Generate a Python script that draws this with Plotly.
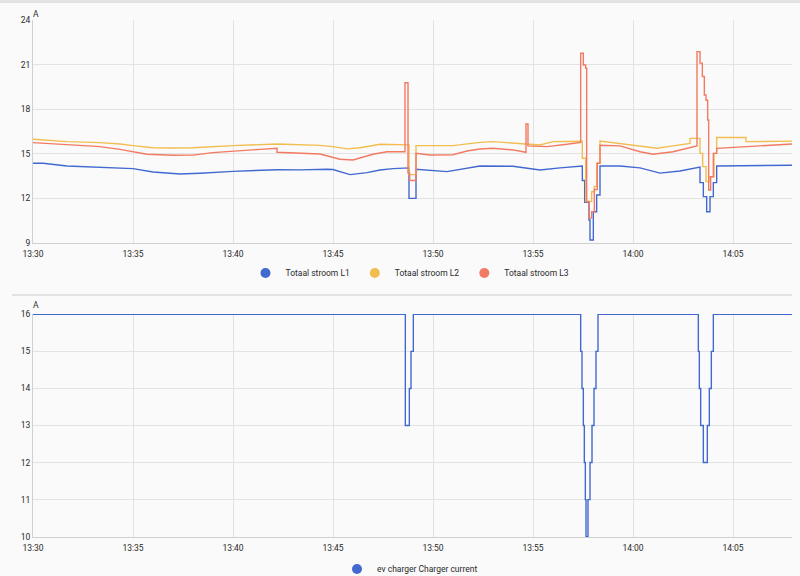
import plotly.graph_objects as go

day = "2024-05-01 "

# Totaal stroom L1 (A)
l1_times = ["13:30:00", "13:30:30", "13:31:42", "13:33:21", "13:35:00", "13:36:00", "13:37:21", "13:38:21",
            "13:40:00", "13:42:12", "13:43:21", "13:44:42", "13:45:00", "13:45:51", "13:46:42", "13:47:21",
            "13:48:00", "13:48:48", "13:48:48", "13:49:09", "13:49:09", "13:50:42", "13:51:42", "13:52:21",
            "13:54:00", "13:55:21", "13:56:21", "13:57:28", "13:57:28", "13:57:35", "13:57:35", "13:57:48",
            "13:57:48", "13:57:51", "13:57:51", "13:58:01", "13:58:01", "13:58:11", "13:58:11", "13:58:21",
            "13:58:21", "13:59:21", "14:00:21", "14:01:21", "14:02:21", "14:03:21", "14:03:21", "14:03:31",
            "14:03:31", "14:03:41", "14:03:41", "14:03:51", "14:03:51", "14:04:01", "14:04:01", "14:04:11",
            "14:04:11", "14:05:39", "14:07:57"]
l1_values = [14.36, 14.36, 14.18, 14.09, 14.00, 13.78, 13.64, 13.69,
             13.82, 13.93, 13.92, 13.96, 13.94, 13.60, 13.73, 13.91,
             14.00, 14.05, 12.00, 12.00, 13.96, 13.80, 14.02, 14.18,
             14.16, 13.91, 14.05, 14.18, 13.20, 13.20, 11.74, 11.74,
             10.55, 10.55, 9.20, 9.20, 11.10, 11.10, 12.23, 12.23,
             14.18, 14.18, 14.05, 13.70, 13.84, 14.10, 13.06, 13.06,
             12.12, 12.12, 11.10, 11.10, 12.12, 12.12, 13.06, 13.06,
             14.18, 14.20, 14.23]

# Totaal stroom L2 (A)
l2_times = ["13:30:00", "13:31:42", "13:33:21", "13:34:21", "13:35:00", "13:36:00", "13:37:00", "13:38:00",
            "13:40:00", "13:42:12", "13:44:21", "13:45:00", "13:45:42", "13:46:21", "13:47:21", "13:48:00",
            "13:48:48", "13:48:48", "13:49:09", "13:49:09", "13:51:00", "13:52:21", "13:53:00", "13:54:39",
            "13:55:21", "13:56:00", "13:57:28", "13:57:28", "13:57:38", "13:57:38", "13:57:56", "13:57:56",
            "13:58:04", "13:58:04", "13:58:11", "13:58:11", "13:58:21", "13:58:21", "13:59:21", "14:00:21",
            "14:01:12", "14:02:00", "14:02:51", "14:02:51", "14:03:21", "14:03:21", "14:03:29", "14:03:29",
            "14:03:39", "14:03:39", "14:03:48", "14:03:48", "14:04:03", "14:04:03", "14:04:11", "14:04:11",
            "14:05:39", "14:05:39", "14:07:57"]
l2_values = [15.98, 15.82, 15.75, 15.66, 15.55, 15.41, 15.39, 15.41,
             15.55, 15.66, 15.57, 15.48, 15.33, 15.41, 15.64, 15.62,
             15.60, 13.60, 13.60, 15.55, 15.55, 15.77, 15.82, 15.66,
             15.59, 15.82, 15.84, 14.70, 14.70, 11.78, 11.78, 12.45,
             12.45, 12.80, 12.80, 14.36, 14.36, 15.86, 15.70, 15.53,
             15.37, 15.53, 15.70, 16.04, 16.04, 15.03, 15.03, 14.14,
             14.14, 13.13, 13.13, 13.46, 13.46, 15.03, 15.03, 16.10,
             16.10, 15.82, 15.85]

# Totaal stroom L3 (A)
l3_times = ["13:30:00", "13:31:42", "13:33:21", "13:34:21", "13:35:00", "13:35:42", "13:37:00", "13:38:00",
            "13:39:00", "13:40:00", "13:41:21", "13:42:12", "13:42:12", "13:44:21", "13:45:21", "13:46:00",
            "13:47:00", "13:47:42", "13:48:21", "13:48:36", "13:48:36", "13:48:45", "13:48:45", "13:48:50",
            "13:48:50", "13:49:09", "13:49:09", "13:49:51", "13:51:00", "13:51:42", "13:52:21", "13:53:00",
            "13:54:00", "13:54:39", "13:54:39", "13:54:45", "13:54:45", "13:55:42", "13:56:42", "13:57:23",
            "13:57:23", "13:57:31", "13:57:31", "13:57:38", "13:57:38", "13:57:41", "13:57:41", "13:57:48",
            "13:57:48", "13:57:56", "13:57:56", "13:58:04", "13:58:04", "13:58:13", "13:58:13", "13:58:21",
            "13:58:21", "13:59:21", "14:00:21", "14:01:00", "14:02:00", "14:02:42", "14:03:12", "14:03:12",
            "14:03:21", "14:03:21", "14:03:28", "14:03:28", "14:03:34", "14:03:34", "14:03:39", "14:03:39",
            "14:03:44", "14:03:44", "14:03:47", "14:03:47", "14:03:53", "14:03:53", "14:04:01", "14:04:01",
            "14:04:11", "14:04:11", "14:05:39", "14:07:57"]
l3_values = [15.75, 15.59, 15.48, 15.30, 15.14, 14.97, 14.90, 14.91,
             15.08, 15.19, 15.30, 15.37, 15.10, 14.99, 14.63, 14.58,
             14.97, 15.14, 15.12, 15.14, 19.78, 19.78, 13.70, 13.70,
             13.20, 13.20, 15.03, 14.92, 14.94, 15.19, 15.32, 15.37,
             15.26, 15.10, 17.00, 17.00, 15.53, 15.48, 15.64, 15.77,
             21.76, 21.76, 20.97, 20.97, 20.75, 20.75, 11.80, 11.80,
             10.67, 10.67, 11.10, 11.10, 12.60, 12.60, 14.36, 14.36,
             15.57, 15.53, 15.14, 14.97, 15.14, 15.37, 15.53, 21.87,
             21.87, 21.10, 21.10, 20.20, 20.20, 18.96, 18.96, 18.60,
             18.60, 17.27, 17.27, 12.57, 12.57, 13.46, 13.46, 15.03,
             15.03, 15.37, 15.50, 15.66]

# ev charger Charger current (A), step changes
ev_times = ["13:30:00", "13:48:37", "13:48:49", "13:48:54", "13:49:01", "13:57:23", "13:57:27", "13:57:31",
            "13:57:34", "13:57:37", "13:57:39", "13:57:45", "13:57:51", "13:57:57", "13:58:03", "13:58:09",
            "13:58:15", "14:03:16", "14:03:19", "14:03:23", "14:03:31", "14:03:43", "14:03:49", "14:03:55",
            "14:04:01", "14:07:57"]
ev_values = [16, 13, 14, 15, 16, 15, 14, 13,
             12, 11, 10, 11, 12, 13, 14, 15,
             16, 15, 14, 13, 12, 13, 14, 15,
             16, 16]

names = ["Totaal stroom L1", "Totaal stroom L2", "Totaal stroom L3"]
colors = ["#4269d0", "#f2bd4f", "#f37a62"]
ev_name = "ev charger Charger current"
ev_color = "#4269d0"

bg = "#fafafa"
grid = "#e3e3e3"
txt = "#2a2a2a"
font = "Roboto"
fs = 8.5

# the page body keeps its 8px margin, so positions are page pixels shifted by 8
W, H = 800, 576


def px(x):
    return (x - 8) / W


def py(y):
    return 1 - (y - 8) / H


fig = go.Figure()

top = [(l1_times, l1_values), (l2_times, l2_values), (l3_times, l3_values)]
for (t, v), name, col in zip(top, names, colors):
    fig.add_trace(go.Scatter(x=[day + s for s in t], y=v, mode="lines", name=name,
                             line=dict(color=col, width=1.4), showlegend=False,
                             xaxis="x", yaxis="y"))
    # legend entry with a round dot
    fig.add_trace(go.Scatter(x=[None], y=[None], mode="markers", name=name,
                             marker=dict(color=col, size=10), legend="legend",
                             xaxis="x", yaxis="y"))

fig.add_trace(go.Scatter(x=[day + s for s in ev_times], y=ev_values, mode="lines", name=ev_name,
                         line=dict(color=ev_color, width=1.4, shape="hv"), showlegend=False,
                         xaxis="x2", yaxis="y2"))
fig.add_trace(go.Scatter(x=[None], y=[None], mode="markers", name=ev_name,
                         marker=dict(color=ev_color, size=10), legend="legend2",
                         xaxis="x2", yaxis="y2"))

xrange = [day + "13:30:00", day + "14:07:57"]
xdom = [px(33), px(792)]

xcommon = dict(range=xrange, type="date", tickformat="%H:%M", dtick=300000,
               showgrid=True, gridcolor=grid, gridwidth=1, showline=True, linecolor="#d0d0d0",
               zeroline=False, ticks="", tickfont=dict(size=fs, color=txt, family=font),
               ticklabelstandoff=3, domain=xdom, automargin=False)
ycommon = dict(showgrid=True, gridcolor=grid, gridwidth=1, showline=True, linecolor="#d0d0d0",
               zeroline=False, ticks="", tickfont=dict(size=fs, color=txt, family=font),
               automargin=False)

legcommon = dict(orientation="h", x=px(410), xanchor="center", yanchor="middle",
                 bgcolor="rgba(0,0,0,0)", font=dict(size=fs, color=txt, family=font),
                 itemsizing="trace", itemwidth=30)

fig.update_layout(
    width=W, height=H,
    margin=dict(l=0, r=0, t=0, b=0),
    paper_bgcolor=bg, plot_bgcolor=bg,
    font=dict(family=font, size=fs, color=txt),
    xaxis=dict(xcommon, anchor="y"),
    yaxis=dict(ycommon, range=[9, 24], dtick=3, domain=[py(243), py(20)], anchor="x"),
    xaxis2=dict(xcommon, anchor="y2"),
    yaxis2=dict(ycommon, range=[9.99, 16.01], dtick=1, tick0=10,
                domain=[py(537), py(314)], anchor="x2"),
    legend=dict(legcommon, y=py(273)),
    legend2=dict(legcommon, y=py(569)),
    showlegend=True,
)

# unit labels
for yy in [14, 305]:
    fig.add_annotation(x=px(36), y=py(yy), xref="paper", yref="paper", text="A",
                       showarrow=False, xanchor="center", yanchor="middle", borderpad=0,
                       font=dict(size=fs, color=txt, family=font))

# card separator between the two charts
fig.add_shape(type="line", xref="paper", yref="paper", x0=px(12), x1=px(793), y0=py(295), y1=py(295),
              line=dict(color="#e2e2e2", width=2))

# page background matches the card, with the thin top separator
page_bg = ("document.body.style.background="
           "'linear-gradient(#e2e2e2 0px, #e2e2e2 3px, #fafafa 3px)';")
fig.write_html("out.html", config={"displayModeBar": False}, post_script=page_bg)
